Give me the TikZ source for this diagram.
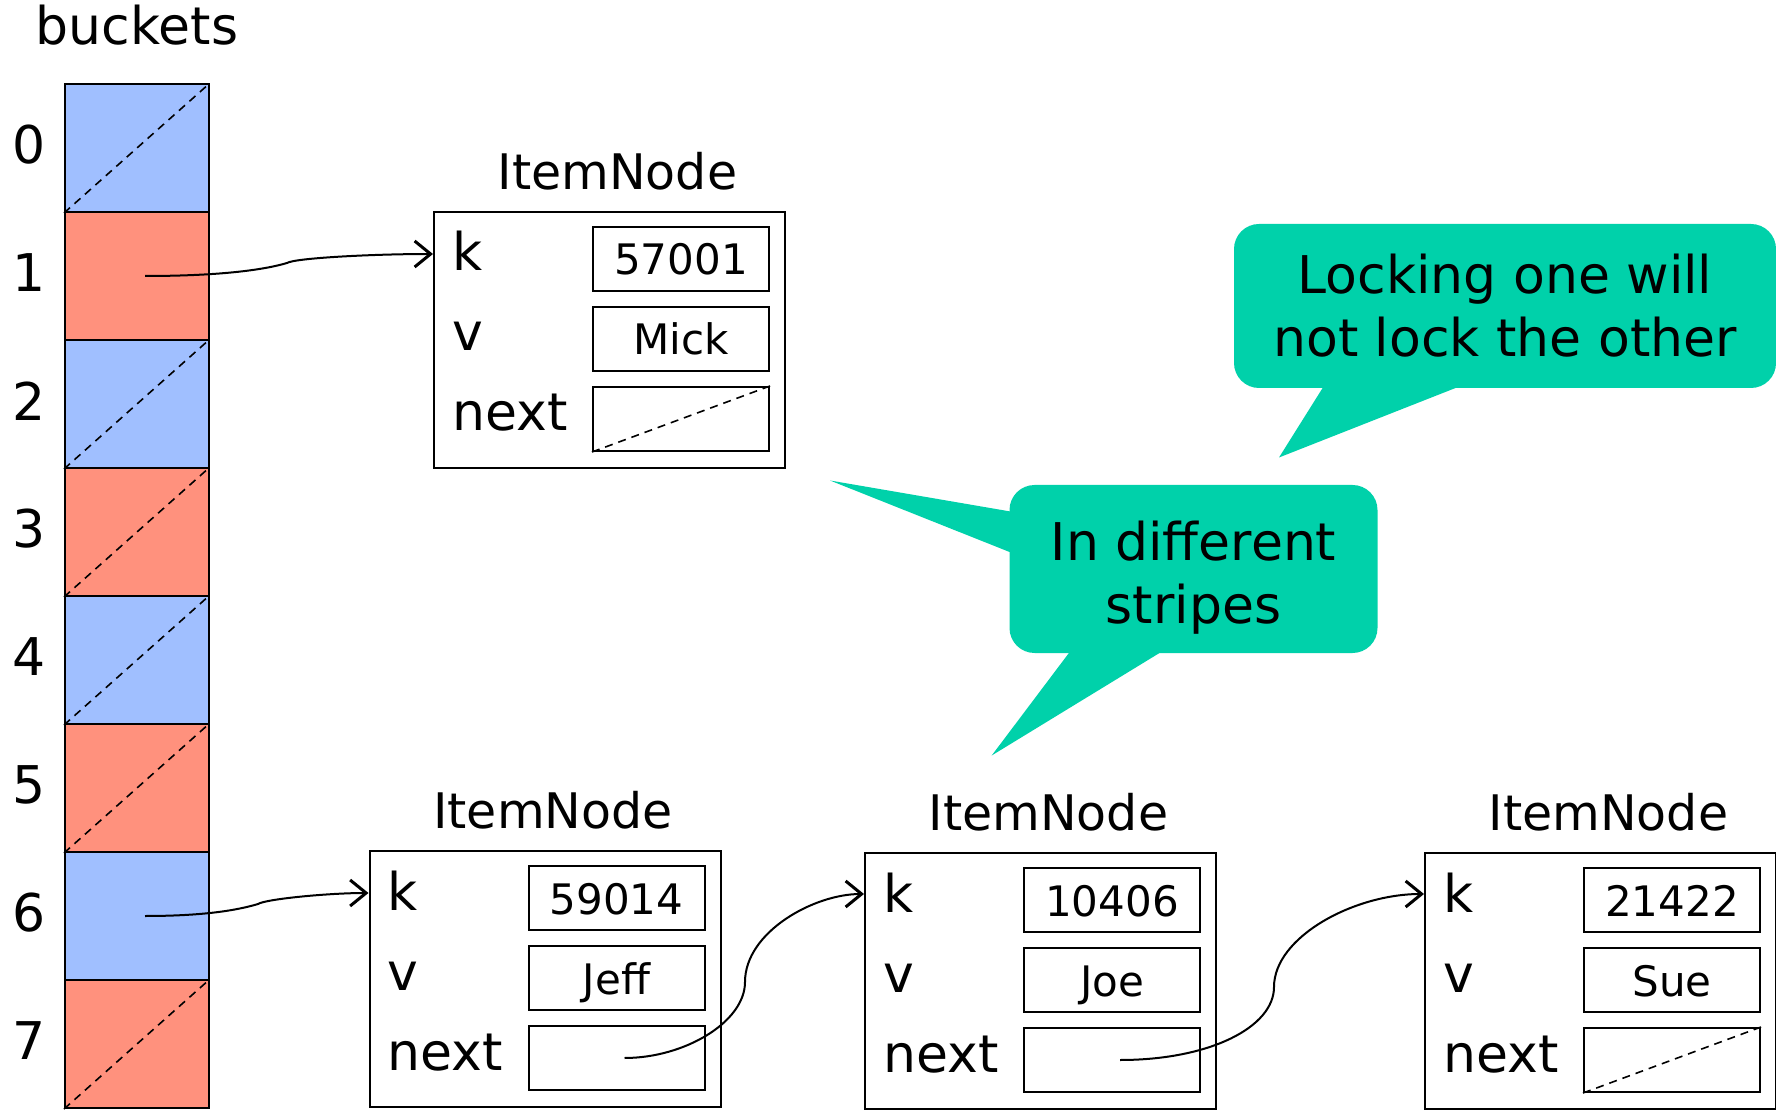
\documentclass[tikz,border=0pt]{standalone}
\usepackage{fontspec}
\setmainfont{DejaVu Sans}
\usetikzlibrary{positioning,arrows.meta}
\definecolor{bktblue}{RGB}{160,191,255}
\definecolor{bktred}{RGB}{255,145,125}
\definecolor{bubblegreen}{RGB}{0,209,170}

\begin{document}
\begin{tikzpicture}[
    x=0.5pt, y=-0.5pt,
    bucket/.style={draw=black, line width=1pt, minimum width=72pt, minimum height=64pt, inner sep=0pt},
    nullptr/.style={dash pattern=on 4pt off 3pt, line width=0.8pt},
    idx/.style={inner sep=0pt, font=\fontsize{26}{31}\selectfont},
    item/.style={draw=black, line width=1pt, minimum width=175.5pt, minimum height=128pt, inner sep=0pt},
    field/.style={draw=black, line width=1pt, minimum width=88pt, minimum height=32pt, inner sep=0pt,
        font=\fontsize{21}{25}\selectfont, text height=16pt, text depth=0pt},
    fieldname/.style={anchor=west, xshift=9.5pt, inner sep=0pt, font=\fontsize{26}{31}\selectfont,
        text height=12pt, text depth=0pt},
    title/.style={inner sep=0pt, xshift=4pt, font=\fontsize{24.5}{29}\selectfont},
    ptr/.style={line width=1pt, -{Straight Barb[length=8pt, width=13pt, line width=1.5pt]}},
    callout/.style={fill=bubblegreen, rounded corners=12.5pt, align=center, inner sep=0pt,
        font=\fontsize{26}{31.5}\selectfont},
    ]
    \useasboundingbox (0,0) rectangle (1776,1111);

    % bucket array
    \foreach \i/\c in {0/bktblue,1/bktred,2/bktblue,3/bktred,4/bktblue,5/bktred,6/bktblue,7/bktred} {
        \node[bucket, fill=\c] (b\i) at (137, {148+128*\i}) {};
        \node[idx, left=9pt of b\i, yshift=1.5pt] {\i};
    }
    \foreach \i in {0,2,3,4,5,7}
        \draw[nullptr] (b\i.south west) -- (b\i.north east);
    \node[idx, above=18.5pt of b0] (buckets) {buckets};

    % item nodes
    \foreach \n/\cx/\cy/\key/\val in {mick/609.5/340/57001/Mick, jeff/545/979/59014/Jeff,
                                      joe/1040.5/981/10406/Joe, sue/1600.5/981/21422/Sue} {
        \node[item] (\n) at (\cx,\cy) {};
        \node[title, above=10pt of \n] {ItemNode};
        \node[field, anchor=north east] (\n-k) at ([shift={(-8pt,-7.5pt)}]\n.north east) {\key};
        \node[field, below=7pt of \n-k] (\n-v) {\val};
        \node[field, below=7pt of \n-v] (\n-n) {};
        \node[fieldname] at (\n.west |- \n-k) {k};
        \node[fieldname] at (\n.west |- \n-v) {v};
        \node[fieldname] at (\n.west |- \n-n) {next};
    }
    \draw[nullptr] (mick-n.south west) -- (mick-n.north east);
    \draw[nullptr] (sue-n.south west) -- (sue-n.north east);

    % pointers
    \coordinate (kink1) at (287,263);
    \coordinate (kink6) at (258,904);
    \coordinate (turn1) at (745,982);
    \coordinate (turn2) at (1274,987);
    \draw[ptr] ([xshift=4pt]b1.center) .. controls +(80,0) and +(-20,6) .. (kink1)
        .. controls +(8,-5) and +(-60,0) .. ([yshift=2.5pt]mick.west |- mick-k);
    \draw[ptr] ([xshift=4pt]b6.center) .. controls +(60,0) and +(-20,6) .. (kink6)
        .. controls +(8,-5) and +(-40,0) .. ([yshift=2.5pt]jeff.west |- jeff-k);
    \draw[ptr] ([xshift=4pt]jeff-n.center) .. controls +(60,0) and +(0,40) .. (turn1)
        .. controls +(0,-50) and +(-50,0) .. ([yshift=3pt]joe.west |- joe-k);
    \draw[ptr] ([xshift=4pt]joe-n.center) .. controls +(90,0) and +(0,40) .. (turn2)
        .. controls +(0,-50) and +(-70,0) .. ([yshift=3pt]sue.west |- sue-k);

    % callouts
    \node[callout, minimum width=271pt, minimum height=82pt] (lock) at (1505,306)
        {Locking one will\\not lock the other};
    \fill[bubblegreen] ([xshift=45pt, yshift=1pt]lock.south west) -- (1279,457.5)
        -- ([xshift=113pt, yshift=1pt]lock.south west) -- cycle;
    \node[callout, minimum width=184pt, minimum height=84pt] (stripes) at (1193.5,569)
        {\rule{0pt}{28.5pt}In different\\stripes};
    \fill[bubblegreen] ([xshift=1pt, yshift=-13.5pt]stripes.north west) -- (830,480.5)
        -- ([xshift=1pt, yshift=-34pt]stripes.north west) -- cycle;
    \fill[bubblegreen] ([xshift=30.5pt, yshift=1pt]stripes.south west) -- (991.7,755.5)
        -- ([xshift=76.5pt, yshift=1pt]stripes.south west) -- cycle;
\end{tikzpicture}
\end{document}
